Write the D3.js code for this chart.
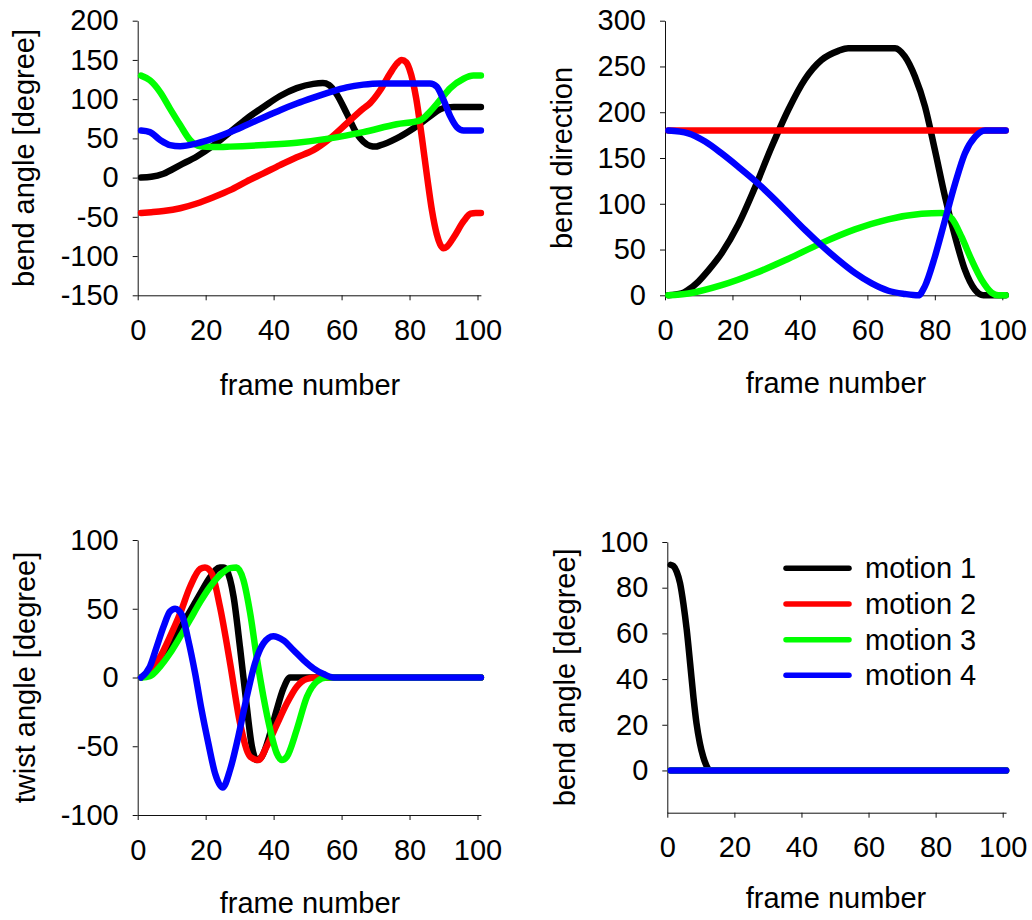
<!DOCTYPE html>
<html>
<head>
<meta charset="utf-8">
<script src="https://cdn.jsdelivr.net/npm/d3@7"></script>
<style>
  html, body { margin: 0; padding: 0; background: #fff; }
  svg { display: block; }
  text { font-family: "Liberation Sans", Arial, sans-serif; fill: #000; }
</style>
</head>
<body>
<svg id="chart" width="1032" height="920"></svg>
<script>
// ---------------- DATA ----------------
const seriesNames = ["motion 1", "motion 2", "motion 3", "motion 4"];
const seriesColors = ["#000000", "#ff0000", "#00ff00", "#0000ff"];
const xTicks = [0, 20, 40, 60, 80, 100];

// Panel 1: bend angle [degree]
const bendAngleTicks = [-150, -100, -50, 0, 50, 100, 150, 200];
const bendAngleM1 = [[1,0],[4,1],[7.6,5],[12.5,16],[17.4,27],[22.3,41],[27.2,58],[32,75],[37,90],[41.9,104],[46.8,114],[51.7,119.5],[54.5,120.5],[56.3,118],[58.6,106],[61.5,82],[64.5,56],[66.4,46],[68.4,40.5],[70,39.5],[71.3,41],[76.2,50],[81.2,63],[86,78],[89,87],[91,89.5],[93,90],[101,90]];
const bendAngleM2 = [[1,-45],[4,-44],[7.6,-42.5],[12.5,-39],[17.4,-33],[22.3,-25],[27.2,-16],[32,-5],[37,5.5],[41.9,16],[46.8,26],[51.7,35],[56.6,50],[61.5,69],[66.4,88],[68.4,95],[71.3,111],[74.3,133],[76.2,145],[77.7,150],[79,147],[80,138],[82,100],[83.6,52],[85.2,0],[86.6,-42],[88,-72],[89,-85],[90,-90],[91,-88],[93,-76],[96,-55],[98,-46],[99.5,-45],[101,-45]];
const bendAngleM3 = [[1,130],[3.6,124],[6.6,109],[9.5,88],[12.5,67],[15.4,48],[18.4,40],[22.3,39],[27.2,39.5],[37,41.5],[46.8,44.5],[56.6,50],[66.4,58],[76.2,68],[83.1,73],[86,84],[89,99],[92,114],[95.9,126],[98.8,130],[101,130]];
const bendAngleM4 = [[1,60],[3.6,58],[6.6,48],[9.5,41.5],[12.5,40],[17.4,43.6],[22.3,50],[27.2,58],[32,67],[37,76.6],[41.9,86],[46.8,94.5],[51.7,102],[56.6,109],[61.5,115],[66.4,118.5],[71.3,120],[76.2,120],[86,120],[88,116],[90,99],[92,78],[94,64],[95.9,60],[101,60]];

// Panel 2: bend direction
const bendDirTicks = [0, 50, 100, 150, 200, 250, 300];
const bendDirM1 = [[1,0],[4.9,2],[6.9,6],[9.9,15],[12.8,27],[16.8,46],[21.7,77],[26.7,118],[31.6,162],[36.6,203],[41.5,236],[46.4,257],[51.4,267],[54.3,270],[68.2,270],[71.1,261],[74.1,239],[77.1,206],[80,159],[83,108],[86,64],[88.9,28],[91.9,6],[94.4,0],[101,0]];
const bendDirM2 = [[1,180],[101,180]];
const bendDirM3 = [[1,0],[6.9,2],[16.8,11],[26.7,24],[36.6,40],[46.4,57],[56.3,72],[66.2,83],[76.1,89],[82,90],[85,84],[87.9,64],[90.9,38.6],[93.9,16.7],[96.8,3],[98.8,0],[101,0]];
const bendDirM4 = [[1,180],[6.9,177],[11.9,168],[16.8,155],[21.7,140.5],[26.7,125],[31.6,108],[36.6,89.6],[41.5,71.5],[46.4,54.5],[51.4,38.6],[56.3,24.5],[61.3,13],[66.2,5],[71.1,1.5],[75.1,0],[77,9.5],[80,42],[83,82],[86,122],[88.9,155],[91.9,173],[94.9,180],[101,180]];

// Panel 3: twist angle [degree]
const twistTicks = [-100, -50, 0, 50, 100];
const twistM1 = [[1,0],[3.6,4],[6.6,12.7],[9.5,23.6],[12.5,35.8],[15.4,48],[18.4,61],[21.3,73],[24.2,80],[25.2,80],[26.2,78],[28.2,59],[30.1,22],[32,-19],[33.6,-50],[35,-60],[36.5,-57.6],[39,-40.6],[40.9,-23.6],[42.9,-7.9],[44.8,0],[101,0]];
const twistM2 = [[1,0],[3.6,5],[6.6,15],[9.5,29.7],[12.5,46.7],[15.4,66],[18.4,79],[19.8,80],[21.8,75.8],[24.2,51.5],[27.2,10.3],[30.1,-33],[33.1,-57.6],[35.5,-60],[38,-50],[40.9,-34.5],[43.9,-18.8],[46.8,-6.7],[49.8,-1],[52.7,0],[101,0]];
const twistM3 = [[1,0],[3.6,1],[6.6,8],[9.5,17.6],[12.5,29.7],[15.4,42],[18.4,55],[21.3,66],[24.2,74.5],[27.2,79.5],[29.1,80],[31.1,71],[33.1,46.7],[35,15],[37,-14],[39,-38],[40.9,-55],[42.4,-60],[43.9,-57.6],[46.8,-38],[49.8,-14],[52.7,-3],[55.6,0],[101,0]];
const twistM4 = [[1,0],[3.6,8],[5.6,22.4],[7.6,37],[9.5,48],[11,50],[13,45.5],[14.9,27],[16.9,3],[18.8,-23.6],[20.8,-48],[22.8,-70],[25,-80],[27.2,-67],[29.6,-43],[32.1,-14],[34.5,10.3],[37,24.8],[39.9,30],[42.9,27],[45.8,20],[48.8,12.7],[51.7,6.7],[54.7,2.5],[57.6,0],[101,0]];

// Panel 4: bend angle [degree]
const bend2Ticks = [0, 20, 40, 60, 80, 100];
const bend2M1 = [[1,90],[1.8,89.5],[2.8,87],[3.8,82],[4.8,73],[5.8,61.5],[6.8,47],[7.8,32],[8.7,20.7],[9.7,12],[10.7,6],[11.7,2],[12.7,0],[101,0]];
const bend2M2 = [[1,0],[101,0]];
const bend2M3 = [[1,0],[101,0]];
const bend2M4 = [[1,0],[101,0]];

// ---------------- LAYOUT ----------------
const panels = [
  { x0: 137.7, x100: 477.5, yDomain: [-150, 200], yRange: [295.3, 20.7], yTicks: bendAngleTicks,
    series: [bendAngleM1, bendAngleM2, bendAngleM3, bendAngleM4],
    yLabel: "bend angle [degree]", yLabelX: 34, xLabelX: 310, xLabelY: 395 },
  { x0: 665, x100: 1002.3, yDomain: [0, 300], yRange: [295.3, 20.7], yTicks: bendDirTicks,
    series: [bendDirM1, bendDirM2, bendDirM3, bendDirM4],
    yLabel: "bend direction", yLabelX: 572, xLabelX: 836, xLabelY: 393 },
  { x0: 137.7, x100: 477.5, yDomain: [-100, 100], yRange: [815, 540], yTicks: twistTicks,
    series: [twistM1, twistM2, twistM3, twistM4],
    yLabel: "twist angle [degree]", yLabelX: 35, xLabelX: 310, xLabelY: 913 },
  { x0: 667.3, x100: 1002.7, yDomain: [-18.5, 100], yRange: [812.7, 542], yTicks: bend2Ticks,
    series: [bend2M1, bend2M2, bend2M3, bend2M4],
    yLabel: "bend angle [degree]", yLabelX: 575, xLabelX: 836, xLabelY: 908, legend: true }
];

const svg = d3.select("#chart");
const FONT = 29;
const fmt = d => String(d);

panels.forEach(p => {
  const x = d3.scaleLinear().domain([0, 101]).range([p.x0, p.x0 + (p.x100 - p.x0) * 1.01]);
  const y = d3.scaleLinear().domain(p.yDomain).range(p.yRange);
  const g = svg.append("g");

  // axes
  const yAxis = d3.axisLeft(y).tickValues(p.yTicks).tickFormat(fmt).tickSize(5).tickSizeOuter(0).tickPadding(14);
  const xAxis = d3.axisBottom(x).tickValues(xTicks).tickFormat(fmt).tickSize(5).tickSizeOuter(0).tickPadding(19);

  const gy = g.append("g").attr("transform", `translate(${p.x0},0)`).call(yAxis);
  const gx = g.append("g").attr("transform", `translate(0,${p.yRange[0]})`).call(xAxis);
  [gx, gy].forEach(ax => {
    ax.selectAll("path, line").attr("stroke", "#111").attr("stroke-width", 1);
    ax.selectAll("text").attr("font-size", FONT).attr("fill", "#000")
      .style("font-family", '"Liberation Sans", Arial, sans-serif');
  });

  // lines
  const line = d3.line().x(d => x(d[0])).y(d => y(d[1])).curve(d3.curveMonotoneX);
  p.series.forEach((s, i) => {
    g.append("path").datum(s)
      .attr("d", line)
      .attr("fill", "none")
      .attr("stroke", seriesColors[i])
      .attr("stroke-width", 6.5)
      .attr("stroke-linecap", "round")
      .attr("stroke-linejoin", "round");
  });

  // labels
  g.append("text").attr("x", p.xLabelX).attr("y", p.xLabelY)
    .attr("text-anchor", "middle").attr("font-size", FONT).text("frame number");
  const cy = (p.yRange[0] + p.yRange[1]) / 2;
  g.append("text").attr("transform", `translate(${p.yLabelX},${cy}) rotate(-90)`)
    .attr("text-anchor", "middle").attr("font-size", FONT).text(p.yLabel);

  if (p.legend) {
    const lg = g.append("g");
    const legY = d3.scaleLinear().domain([0, 3]).range([568.3, 675.3]);
    seriesNames.forEach((name, i) => {
      lg.append("line")
        .attr("x1", 786).attr("x2", 849)
        .attr("y1", legY(i)).attr("y2", legY(i))
        .attr("stroke", seriesColors[i]).attr("stroke-width", 5.5)
        .attr("stroke-linecap", "round");
      lg.append("text").attr("x", 865).attr("y", legY(i) + 10)
        .attr("font-size", FONT).text(name);
    });
  }
});
</script>
</body>
</html>
